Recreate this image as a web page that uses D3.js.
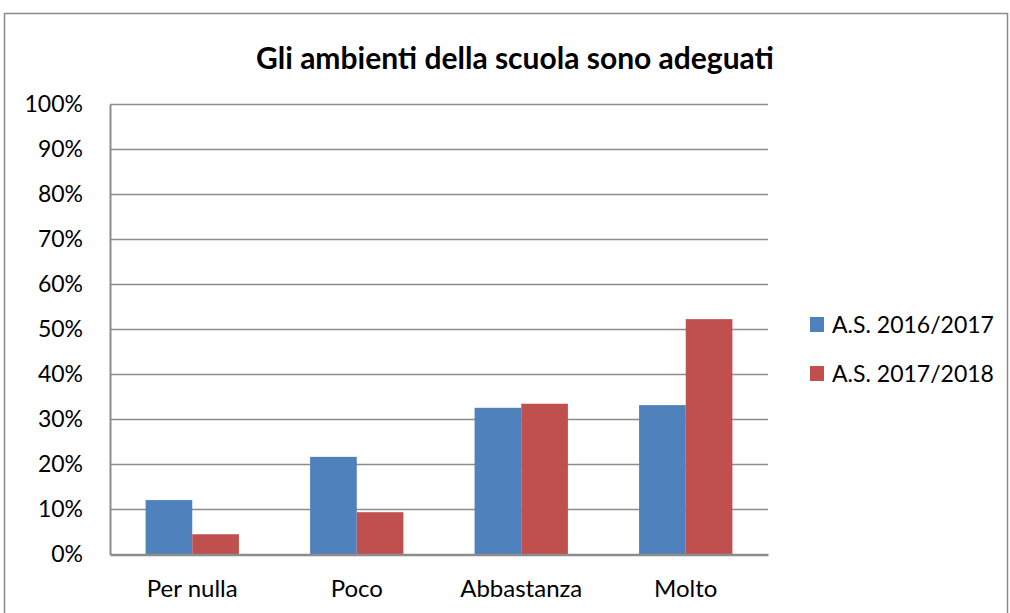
<!DOCTYPE html>
<html>
<head>
<meta charset="utf-8">
<script src="https://cdn.jsdelivr.net/npm/d3@7"></script>
<style>
  body { margin: 0; background: #fff; }
  text { font-family: Lato, "Open Sans", sans-serif; fill: #000; }
</style>
</head>
<body>
<div id="chart"></div>
<script>
// data
const categories = ["Per nulla", "Poco", "Abbastanza", "Molto"];
const seriesNames = ["A.S. 2016/2017", "A.S. 2017/2018"];
const values2016 = [0.121, 0.217, 0.326, 0.332];
const values2017 = [0.045, 0.094, 0.335, 0.523];
const yTicks = [0, 0.1, 0.2, 0.3, 0.4, 0.5, 0.6, 0.7, 0.8, 0.9, 1];
const colors = ["#4F81BD", "#C0504D"];

const W = 1010, H = 613;
const plot = { left: 110, right: 768, top: 104.5, bottom: 554.5 };

const svg = d3.select('#chart')
    .append('svg')
    .attr('width', W)
    .attr('height', H);

// chart border
svg.append('rect')
    .attr('x', 4.5).attr('y', 13.5)
    .attr('width', 1003).attr('height', 640)
    .attr('fill', 'none')
    .attr('stroke', '#8a8a8a')
    .attr('stroke-width', 1.5);

// title
svg.append('text')
    .attr('x', 515).attr('y', 69)
    .attr('text-anchor', 'middle')
    .style('font-weight', 'bold')
    .style('font-size', '30px')
    .text('Gli ambienti della scuola sono adeguati');

// scales
const x0 = d3.scaleBand()
    .domain(categories)
    .range([plot.left, plot.right])
    .paddingInner(0.4327)
    .paddingOuter(0.2164);

const x1 = d3.scaleBand()
    .domain(seriesNames)
    .range([0, x0.bandwidth()]);

const y = d3.scaleLinear()
    .domain([0, 1])
    .range([plot.bottom, plot.top]);

// gridlines
const grid = svg.append('g');
grid.selectAll('line')
    .data(yTicks.filter(d => d > 0))
    .enter()
    .append('line')
    .attr('x1', plot.left).attr('x2', plot.right)
    .attr('y1', d => y(d)).attr('y2', d => y(d))
    .attr('stroke', '#8c8c8c')
    .attr('stroke-width', 1.5);

// y axis labels
const yAxis = d3.axisLeft(y)
    .tickValues(yTicks)
    .tickFormat(d3.format('.0%'))
    .tickSize(0)
    .tickPadding(27);

const yAxisGroup = svg.append('g')
    .attr('transform', `translate(${plot.left}, 0)`)
    .call(yAxis);
yAxisGroup.select('.domain')
    .attr('stroke', '#8c8c8c')
    .attr('stroke-width', 2);
yAxisGroup.selectAll('text')
    .style('font-size', '23px')
    .style('font-family', 'Lato, sans-serif');

// bars
const series = [values2016, values2017];
const groups = svg.append('g')
    .selectAll('g')
    .data(categories)
    .enter()
    .append('g')
    .attr('transform', d => `translate(${x0(d)}, 0)`);

groups.selectAll('rect')
    .data((d, i) => seriesNames.map((s, j) => ({ name: s, value: series[j][i], idx: j })))
    .enter()
    .append('rect')
    .attr('x', d => x1(d.name))
    .attr('y', d => y(d.value))
    .attr('width', x1.bandwidth())
    .attr('height', d => y(0) - y(d.value))
    .attr('fill', d => colors[d.idx]);

// x axis
const xAxis = d3.axisBottom(x0)
    .tickSize(0)
    .tickPadding(25);

const xAxisGroup = svg.append('g')
    .attr('transform', `translate(0, ${plot.bottom})`)
    .call(xAxis);
xAxisGroup.select('.domain')
    .attr('stroke', '#8c8c8c')
    .attr('stroke-width', 2.5);
xAxisGroup.selectAll('text')
    .style('font-size', '24px')
    .style('font-family', 'Lato, sans-serif');

// legend
const legend = svg.append('g')
    .selectAll('g')
    .data(seriesNames)
    .enter()
    .append('g')
    .attr('transform', (d, i) => `translate(810, ${317 + i * 49})`);

legend.append('rect')
    .attr('width', 14).attr('height', 15)
    .attr('fill', (d, i) => colors[i]);

legend.append('text')
    .attr('x', 22).attr('y', 16)
    .style('font-size', '23px')
    .text(d => d);
</script>
</body>
</html>
